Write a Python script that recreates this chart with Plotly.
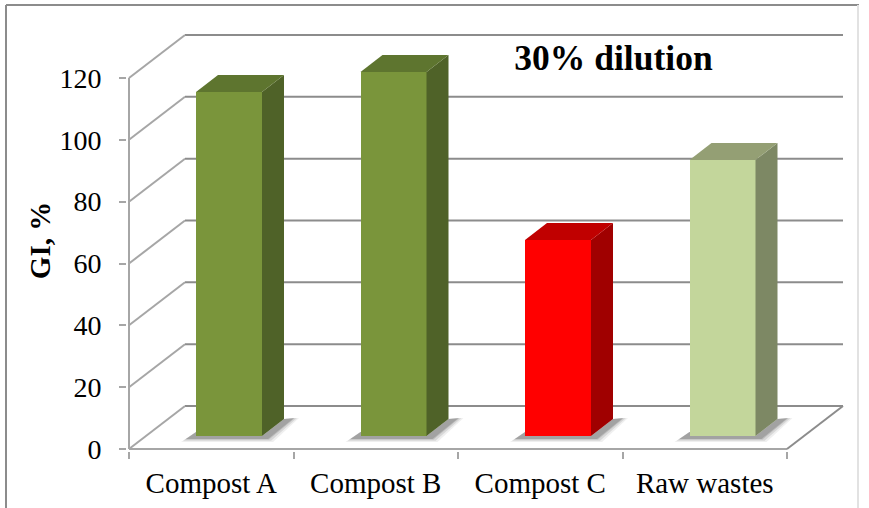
import numpy as np
import plotly.graph_objects as go

# --- data -------------------------------------------------------------
categories = ["Compost A", "Compost B", "Compost C", "Raw wastes"]
gi_values = [111.3, 117.7, 63.4, 89.3]
y_ticks = [0, 20, 40, 60, 80, 100, 120]
front_colors = ["#7A953B", "#7A953B", "#FF0000", "#C3D69B"]
top_colors = ["#5E752F", "#5E752F", "#C00000", "#949F74"]
side_colors = ["#4F6228", "#4F6228", "#A00000", "#7D8864"]

# --- layout geometry (page pixels) -----------------------------------
W, H = 869, 508
X0, X_END, X_PLOT_L, X_PLOT_R = 129, 787, 127, 850   # front axis start/end, plot area
Y0, Y120, Y_PLOT_T, Y_PLOT_B = 449, 78, 30, 451
PX_PER_CAT = (X_END - X0) / 4
PX_PER_VAL = (Y0 - Y120) / 120
ux = 1 / PX_PER_CAT     # one page pixel in x-axis units
uy = 1 / PX_PER_VAL     # one page pixel in y-axis units

x_lo, x_hi = -0.5, 3.5
range_x = [x_lo - (X0 - X_PLOT_L) * ux, x_hi + (X_PLOT_R - X_END) * ux]
range_y = [-(Y_PLOT_B - Y0) * uy, (Y0 - Y_PLOT_T) * uy]

wall_dx, wall_dy = 56 * ux, 43 * uy      # depth of floor / walls
bar_dx, bar_dy = 22 * ux, 17 * uy        # depth of a bar
bar_w = 66 * ux
bar_shift = 17.75 * ux
bar_base = 13 * uy

GRID = "#8C8C8C"
WALL = "#A6A6A6"
FONT = "Liberation Serif"

fig = go.Figure()
positions = np.arange(len(categories))
x_centre = positions + bar_shift


def line(x0, y0, x1, y1, color=GRID, width=2):
    return dict(type="line", xref="x", yref="y", x0=x0, y0=y0, x1=x1, y1=y1,
                line=dict(color=color, width=width), layer="below")


shapes = []
# back wall gridlines and left-wall diagonals
for v in y_ticks:
    shapes.append(line(x_lo + wall_dx, v + wall_dy, x_hi + wall_dx, v + wall_dy))
    shapes.append(line(x_lo, v, x_lo + wall_dx, v + wall_dy, WALL))
# floor and axes
shapes.append(line(x_lo, 0, x_hi, 0, WALL))
shapes.append(line(x_hi, 0, x_hi + wall_dx, wall_dy))
shapes.append(line(x_lo, 0, x_lo, 120, WALL))

# soft floor shadows: nested translucent polygons below the bars
for grow, alpha in [(5, 0.10), (3, 0.16), (1, 0.22), (0, 0.28)]:
    for xc in x_centre:
        xl = xc - bar_w / 2
        xr = xc + bar_w / 2
        sx = [xl - (10 + grow) * ux, xl, xr, xr + bar_dx, xr + bar_dx + (10 + grow) * ux,
              xr + (6 + grow) * ux]
        sy = [bar_base - (3 + grow * 0.6) * uy, bar_base + 4 * uy, bar_base,
              bar_base + bar_dy, bar_base + bar_dy + 1 * uy, bar_base - (3 + grow * 0.6) * uy]
        path = "M" + " L".join(f"{a},{b}" for a, b in zip(sx, sy)) + " Z"
        shapes.append(dict(type="path", xref="x", yref="y", path=path, fillcolor="#606060",
                           opacity=alpha, line=dict(width=0), layer="below"))


def poly(xs, ys, color):
    fig.add_trace(go.Scatter(x=xs, y=ys, mode="lines", fill="toself", fillcolor=color,
                             line=dict(width=0, color=color),
                             hoverinfo="skip", showlegend=False))


# front faces through a real bar trace
fig.add_trace(go.Bar(x=x_centre, y=gi_values, base=bar_base, width=bar_w,
                     marker=dict(color=front_colors, line=dict(width=0)),
                     hoverinfo="skip", showlegend=False))

# side and top faces follow the values
for xc, v, top_c, side_c in zip(x_centre, gi_values, top_colors, side_colors):
    xl, xr = xc - bar_w / 2, xc + bar_w / 2
    yb, yt = bar_base, bar_base + v
    poly([xr, xr + bar_dx, xr + bar_dx, xr], [yb, yb + bar_dy, yt + bar_dy, yt], side_c)
    poly([xl, xr, xr + bar_dx, xl + bar_dx], [yt, yt, yt + bar_dy, yt + bar_dy], top_c)

# outer frame of the chart area, on a hidden full-page overlay of axes
for xs, ys, col in [([6, 859], [5, 5], "#8C8C8C"), ([6, 6], [5, 508], "#8C8C8C"),
                    ([858, 858], [5, 508], "#E2E2E2")]:
    fig.add_trace(go.Scatter(x=xs, y=ys, xaxis="x2", yaxis="y2", mode="lines",
                             line=dict(color=col, width=2), hoverinfo="skip", showlegend=False))

fig.update_layout(
    width=W, height=H, margin=dict(l=0, r=0, t=0, b=0), autosize=False,
    paper_bgcolor="white", plot_bgcolor="rgba(0,0,0,0)",
    shapes=shapes, bargap=0, showlegend=False,
    font=dict(family=FONT, color="black"),
    title=dict(text="<b>30% dilution</b>", font=dict(family=FONT, size=35.5, color="black"),
               x=613.5 / W, xanchor="center", xref="container",
               y=1 - 58 / H, yanchor="middle", yref="container"),
    xaxis=dict(domain=[X_PLOT_L / W, X_PLOT_R / W], range=range_x, type="linear", automargin=False,
               tickmode="array", tickvals=positions, ticktext=categories,
               ticks="", ticklen=0, showgrid=False, zeroline=False, showline=False,
               tickfont=dict(family=FONT, size=29, color="black"), ticklabelstandoff=12,
               minor=dict(tickmode="array", tickvals=[-0.5, 0.5, 1.5, 2.5, 3.5], ticks="outside",
                          ticklen=7, tickwidth=2, tickcolor=WALL, showgrid=False)),
    yaxis=dict(domain=[1 - Y_PLOT_B / H, 1 - Y_PLOT_T / H], range=range_y, type="linear", automargin=False,
               tickmode="array", tickvals=y_ticks, ticks="outside", ticklen=7, tickwidth=2,
               tickcolor=WALL, showgrid=False, zeroline=False, showline=False,
               tickfont=dict(family=FONT, size=28, color="black"), ticklabelstandoff=12,
               title=dict(text="<b>GI, %</b>", font=dict(family=FONT, size=29, color="black"), standoff=0)),
    xaxis2=dict(domain=[0, 1], range=[0, W], visible=False, anchor="y2", automargin=False),
    yaxis2=dict(domain=[0, 1], range=[H, 0], visible=False, anchor="x2", automargin=False),
)

fig.write_html("out.html", config=dict(displayModeBar=False),
               post_script="document.body.style.margin='0';document.body.style.overflow='hidden';")
